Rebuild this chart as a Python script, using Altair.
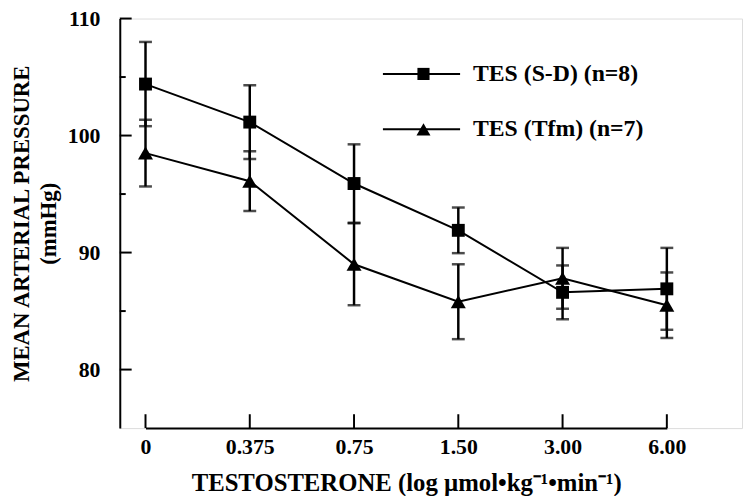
import altair as alt
import pandas as pd

doses = ["0", "0.375", "0.75", "1.50", "3.00", "6.00"]
series = ["TES (S-D) (n=8)", "TES (Tfm) (n=7)"]
sd_mean = [104.4, 101.15, 95.9, 91.9, 86.6, 86.9]
sd_err = [3.6, 3.15, 3.35, 1.95, 2.3, 3.5]
tfm_mean = [98.5, 96.1, 89.0, 85.8, 87.8, 85.5]
tfm_err = [2.85, 2.55, 3.5, 3.2, 2.6, 2.8]
major_ticks = [80, 90, 100, 110]
minor_ticks = [85, 95, 105]
shapes = ["square", "triangle-up"]

rows = []
for s, means, errs in [(series[0], sd_mean, sd_err), (series[1], tfm_mean, tfm_err)]:
    for d, m, e in zip(doses, means, errs):
        rows.append({"dose": d, "series": s, "mean": m, "lo": m - e, "hi": m + e})
df = pd.DataFrame(rows)

FONT = "Liberation Serif"
W, H = 629, 414

x_scale = alt.Scale(type="point", range=[26, 553], padding=0)
x_axis = alt.Axis(title="TESTOSTERONE (log µmol•kg⁻¹•min⁻¹)", labelAngle=0,
                  ticks=False, tickSize=0, labelPadding=9, titlePadding=13,
                  domainColor="black", domainWidth=2,
                  labelFont=FONT, labelFontSize=22, labelFontWeight="bold", labelColor="black",
                  titleFont=FONT, titleFontSize=25, titleFontWeight="bold", titleColor="black")
y_scale = alt.Scale(domain=[75, 110], nice=False, zero=False)
y_axis = alt.Axis(title=["MEAN ARTERIAL PRESSURE", "(mmHg)"], values=major_ticks,
                  ticks=False, tickSize=0, labelPadding=20, titlePadding=7,
                  titleLineHeight=27, grid=False,
                  domainColor="black", domainWidth=2,
                  labelFont=FONT, labelFontSize=22, labelFontWeight="bold", labelColor="black",
                  titleFont=FONT, titleFontSize=23, titleFontWeight="bold", titleColor="black")


def X(field="dose"):
    return alt.X(f"{field}:N", sort=doses, scale=x_scale, axis=x_axis)


def Y(field):
    return alt.Y(f"{field}:Q", scale=y_scale, axis=y_axis)


base = alt.Chart(df)

lines = base.mark_line(color="black", strokeWidth=2).encode(x=X(), y=Y("mean"), detail="series:N")
errbars = base.mark_rule(color="black", strokeWidth=2.5).encode(x=X(), y=Y("lo"), y2="hi:Q")
caps_hi = base.mark_tick(color="black", thickness=2.5, size=13).encode(x=X(), y=Y("hi"))
caps_lo = base.mark_tick(color="black", thickness=2.5, size=13).encode(x=X(), y=Y("lo"))
points = base.mark_point(filled=True, color="black", opacity=1).encode(
    x=X(), y=Y("mean"),
    shape=alt.Shape("series:N", scale=alt.Scale(domain=series, range=shapes), legend=None),
    size=alt.Size("series:N", scale=alt.Scale(domain=series, range=[170, 230]), legend=None))

# inward axis ticks
yticks_major = alt.Chart(pd.DataFrame({"v": major_ticks})).mark_rule(color="black", strokeWidth=2).encode(
    y=Y("v"), x=alt.value(0), x2=alt.value(12))
yticks_minor = alt.Chart(pd.DataFrame({"v": minor_ticks})).mark_rule(color="black", strokeWidth=2).encode(
    y=Y("v"), x=alt.value(0), x2=alt.value(6))
xticks = alt.Chart(pd.DataFrame({"dose": doses})).mark_rule(color="black", strokeWidth=2).encode(
    x=X(), y=alt.value(H), y2=alt.value(H - 14))

# legend
legend_layers = []
for i, (s, shp, sz) in enumerate(zip(series, shapes, [150, 200])):
    ly = 56 + 56 * i
    ldf = pd.DataFrame({"label": [s]})
    legend_layers.append(alt.Chart(ldf).mark_rule(color="black", strokeWidth=2).encode(
        x=alt.value(266), x2=alt.value(344), y=alt.value(ly)))
    legend_layers.append(alt.Chart(ldf).mark_point(filled=True, color="black", opacity=1, shape=shp, size=sz).encode(
        x=alt.value(307), y=alt.value(ly)))
    legend_layers.append(alt.Chart(ldf).mark_text(align="left", baseline="middle", font=FONT, fontSize=24,
                                                  fontWeight="bold", color="black").encode(
        x=alt.value(357), y=alt.value(ly), text="label:N"))

chart = alt.layer(lines, errbars, caps_hi, caps_lo, points, yticks_major, yticks_minor, xticks,
                  *legend_layers).properties(
    width=W, height=H,
    autosize=alt.AutoSizeParams(type="none"),
    padding={"left": 113, "top": 8, "right": 2, "bottom": 66},
).configure_view(stroke=None).configure(background="white")

chart.save("out.html", embed_options={"renderer": "svg", "actions": False})
